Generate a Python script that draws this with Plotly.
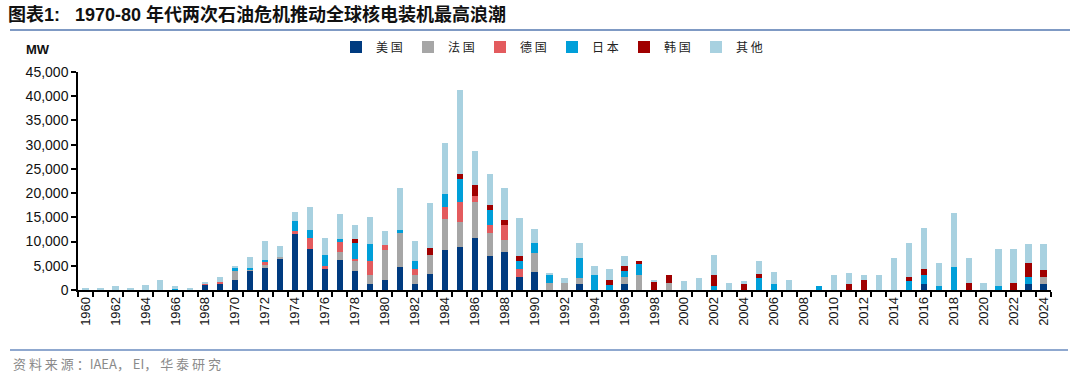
import plotly.graph_objects as go

years = list(range(1960, 2025))

us = [0,0,0,0,0,0,0,0,1050,1380,
      2070,3930,4550,6540,11640,8500,4300,6240,3970,1140,
      2100,4650,1140,3350,8160,8840,10700,6920,7810,2650,
      3680,0,0,1140,0,0,1140,0,0,0,
      0,0,0,0,0,0,0,0,0,0,
      0,0,0,0,0,0,1140,0,0,0,
      0,0,0,1140,1140]
fr = [0,0,0,0,0,0,0,0,100,0,
      1860,280,690,280,0,0,0,1570,2060,1860,
      6060,7020,1860,3840,6410,5110,7440,4820,2560,0,
      3920,1400,1400,1300,0,0,1510,3000,0,1400,
      0,0,0,0,0,0,0,0,0,0,
      0,0,0,0,0,0,0,0,0,0,
      0,0,0,0,1590]
de = [0,0,0,0,0,0,0,0,200,280,
      0,0,620,0,620,2200,700,2270,270,2890,
      1030,0,1240,0,2540,4190,1240,1590,2960,1590,
      0,0,0,0,0,0,0,0,0,0,
      0,0,0,0,0,0,0,0,0,0,
      0,0,0,0,0,0,0,0,0,0,
      0,0,0,0,0]
jp = [0,0,0,0,0,0,400,0,0,0,
      760,410,340,0,1930,1590,2190,350,3450,3570,
      0,690,1710,0,2620,4750,0,3240,0,1650,
      2150,1740,0,4130,3000,1070,1320,2270,0,0,
      0,0,750,0,0,2440,1140,0,0,900,
      0,0,0,0,0,1760,1860,790,4650,0,
      0,790,0,1590,0]
kr = [0,0,0,0,0,0,0,0,0,0,
      0,0,0,0,0,0,0,0,680,0,
      0,0,0,1380,0,970,2270,890,1030,1030,
      0,0,0,0,0,1040,1030,620,1760,1600,
      0,0,2250,0,1140,910,0,0,0,0,
      0,1140,2020,0,0,970,1300,0,0,1400,
      0,0,1400,2890,1300]
other = [480,500,760,480,1100,2130,350,500,300,960,
         200,2200,3860,2270,2000,4900,3590,5170,2900,5520,
         2900,8670,4130,9300,10600,17360,7110,6400,6640,8000,
         2890,330,1040,3180,1920,2190,1920,0,350,0,
         1760,2400,4230,1400,620,2540,2480,2020,0,0,
         3000,2270,980,3000,6570,7020,8410,4750,11150,5110,
         1400,7720,7110,3840,5430]

series = [("美 国", us, "#003B80"), ("法 国", fr, "#A6A6A6"), ("德 国", de, "#E35B5E"),
          ("日 本", jp, "#009FD9"), ("韩 国", kr, "#A00000"), ("其 他", other, "#A8D1E0")]

tick_years = list(range(1960, 2025, 2))

fig = go.Figure()
for name, vals, col in series:
    fig.add_trace(go.Bar(x=years, y=vals, name=name, marker=dict(color=col, line=dict(width=0)),
                         width=0.42))

W, H = 1080, 377
L, R, T, B = 78, 29, 72, 87
pw, ph = W - L - R, H - T - B
def px(x): return (x - L) / pw
def py(y): return (H - B - y) / ph

font_main = "Arial, Liberation Sans, Noto Sans CJK SC"
fig.update_layout(
    width=W, height=H, margin=dict(l=L, r=R, t=T, b=B, autoexpand=False),
    barmode="stack", plot_bgcolor="white", paper_bgcolor="white",
    font=dict(family=font_main, size=14, color="#111"),
    showlegend=True,
    legend=dict(orientation="h", x=px(336), y=py(47), xanchor="left", yanchor="middle",
                entrywidth=27, entrywidthmode="pixels", traceorder="normal",
                font=dict(family="Noto Sans CJK SC", size=12, color="#222"),
                itemwidth=30, bgcolor="rgba(0,0,0,0)"),
    xaxis=dict(range=[1959.5, 2024.5], tickmode="array", tickvals=tick_years,
               ticktext=[str(y) for y in tick_years], tickangle=-90, ticks="",
               tickfont=dict(size=13, color="#111"), showgrid=False, zeroline=False,
               showline=True, linecolor="black", linewidth=1.5,
               minor=dict(ticks="outside", tick0=1959.5, dtick=1, ticklen=5,
                          tickcolor="black", tickwidth=1.5, showgrid=False)),
    yaxis=dict(range=[0, 45000], dtick=5000, tickformat=",", ticks="outside",
               ticklen=5, tickcolor="black", tickwidth=1.5, showgrid=False,
               zeroline=False, showline=True, linecolor="black", linewidth=1.5,
               tickfont=dict(size=14, color="#111")),
    bargap=0.58,
)

fig.add_annotation(xref="paper", yref="paper", x=px(6), y=py(14), xanchor="left", yanchor="middle",
                   text="<b>图表1:   1970-80 年代两次石油危机推动全球核电装机最高浪潮</b>",
                   showarrow=False, font=dict(family=font_main, size=18, color="#111"))
fig.add_annotation(xref="paper", yref="paper", x=px(24), y=py(49), xanchor="left", yanchor="middle",
                   text="<b>MW</b>", showarrow=False, font=dict(family=font_main, size=13, color="#111"))
fig.add_annotation(xref="paper", yref="paper", x=px(11), y=py(363), xanchor="left", yanchor="middle",
                   text="资 料 来 源 ：IAEA， EI， 华 泰 研 究", showarrow=False,
                   font=dict(family="Noto Sans CJK SC, Arial", size=13, color="#8a8a8a"))
fig.add_shape(type="line", xref="paper", yref="paper", x0=px(10), x1=px(1070), y0=py(30), y1=py(30),
              line=dict(color="#7F9AC4", width=2))
fig.add_shape(type="line", xref="paper", yref="paper", x0=px(10), x1=px(1068), y0=py(350), y1=py(350),
              line=dict(color="#8FA8CF", width=2))

fig.write_html("out.html", config={"displayModeBar": False},
               post_script="document.body.style.margin='0';document.body.style.overflow='hidden';")
